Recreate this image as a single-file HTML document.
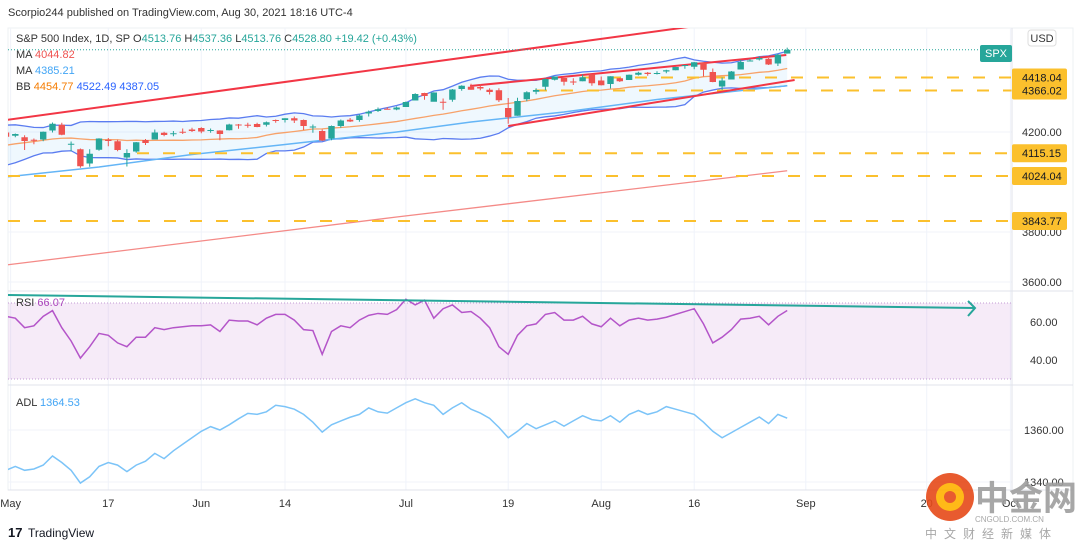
<!DOCTYPE html>
<html><head><meta charset="utf-8">
<style>
body{margin:0;background:#fff;}
svg{display:block;font-family:"Liberation Sans","Noto Sans CJK SC",sans-serif;}
</style></head>
<body>
<svg id="chart" width="1080" height="548" viewBox="0 0 1080 548" xmlns="http://www.w3.org/2000/svg">
<defs>
<clipPath id="mainClip"><rect x="8" y="28" width="1004" height="262"/></clipPath>
<clipPath id="subClip"><rect x="8" y="292" width="1004" height="198"/></clipPath>
</defs>
<rect x="0" y="0" width="1080" height="548" fill="#fff"/>
<text x="8" y="16" font-size="11" fill="#333">Scorpio244 published on TradingView.com, Aug 30, 2021 18:16 UTC-4</text>
<rect x="8" y="28" width="1065" height="462" fill="none" stroke="#eef0f3"/>
<g id="grid"></g>
<g id="main" clip-path="url(#mainClip)"></g>
<g id="sub" clip-path="url(#subClip)"></g>
<line x1="8" y1="291" x2="1073" y2="291" stroke="#e0e3eb"/>
<line x1="8" y1="385" x2="1073" y2="385" stroke="#e0e3eb"/>
<line x1="8" y1="490" x2="1073" y2="490" stroke="#e0e3eb"/>
<line x1="1012" y1="28" x2="1012" y2="490" stroke="#e0e3eb"/>
<g id="axis" font-size="11" fill="#333"></g>
<g font-size="11">
<text x="16" y="42" fill="#333">S&amp;P 500 Index, 1D, SP <tspan fill="#333">O</tspan><tspan fill="#26a69a">4513.76</tspan> <tspan fill="#333">H</tspan><tspan fill="#26a69a">4537.36</tspan> <tspan fill="#333">L</tspan><tspan fill="#26a69a">4513.76</tspan> <tspan fill="#333">C</tspan><tspan fill="#26a69a">4528.80</tspan> <tspan fill="#26a69a">+19.42 (+0.43%)</tspan></text>
<text x="16" y="58" fill="#333">MA <tspan fill="#ef5350">4044.82</tspan></text>
<text x="16" y="74" fill="#333">MA <tspan fill="#42a5f5">4385.21</tspan></text>
<text x="16" y="90" fill="#333">BB <tspan fill="#f57c00">4454.77</tspan>  <tspan fill="#2962ff">4522.49</tspan>  <tspan fill="#2962ff">4387.05</tspan></text>
<text x="16" y="306" fill="#333">RSI <tspan fill="#ab47bc">66.07</tspan></text>
<text x="16" y="406" fill="#333">ADL <tspan fill="#42a5f5">1364.53</tspan></text>
</g>
<g><rect x="980" y="45" width="32" height="17" rx="2" fill="#26a69a"/><text x="996" y="57" font-size="11" fill="#fff" text-anchor="middle">SPX</text></g>
<g><rect x="1028" y="30" width="28" height="16" rx="3" fill="#fff" stroke="#ddd"/><text x="1042" y="42" font-size="11" fill="#333" text-anchor="middle">USD</text></g>
<g><text x="8" y="537" font-size="13" font-weight="bold" fill="#131722">17</text><text x="28" y="537" font-size="12" fill="#131722">TradingView</text></g>
<g opacity="0.9">
<circle cx="950" cy="497" r="24" fill="#e64a19"/><circle cx="950" cy="497" r="14" fill="#ffb300"/><circle cx="950" cy="497" r="6" fill="#e64a19"/>
<text x="975" y="510" font-size="34" fill="#9e9e9e" font-weight="bold">中金网</text>
<text x="975" y="522" font-size="8" fill="#9e9e9e">CNGOLD.COM.CN</text>
<text x="925" y="538" font-size="12" fill="#9e9e9e" letter-spacing="7">中文财经新媒体</text>
</g>
</svg>
<script>
const dateLabels=["May","17","Jun","14","Jul","19","Aug","16","Sep","20","Oct"];
const dateLabelIdx=[0.5,11,21,30,43,54,64,74,86,99,108];
const closes=[4181,4192,4164,4168,4201,4233,4189,4153,4063,4113,4174,4164,4128,4116,4159,4156,4198,4188,4195,4200,4204,
4202,4208,4192,4230,4227,4228,4220,4239,4247,4255,4246,4224,4222,4166,4224,4246,4242,4266,4281,4291,4291,4298,
4320,4352,4344,4358,4320,4370,4385,4369,4374,4360,4327,4259,4324,4359,4368,4412,4422,4401,4400,4419,4395,
4387,4423,4403,4429,4437,4432,4436,4447,4460,4468,4479,4449,4400,4406,4442,4480,4486,4496,4470,4509,4528.8];
const opens=[4198,4185,4179,4169,4170,4206,4229,4150,4131,4074,4129,4169,4163,4098,4122,4168,4170,4197,4192,4201,4210,
4216,4206,4206,4207,4230,4229,4232,4229,4248,4248,4255,4248,4221,4204,4174,4224,4249,4248,4274,4284,4293,4290,
4300,4326,4356,4321,4321,4329,4372,4381,4380,4369,4367,4296,4265,4331,4361,4381,4409,4416,4402,4403,4431,
4406,4392,4415,4408,4429,4437,4435,4442,4447,4464,4461,4478,4440,4382,4410,4450,4484,4490,4493,4474,4513.76];
const highs=[4200,4194,4187,4174,4202,4238,4237,4162,4134,4131,4175,4176,4169,4131,4160,4172,4210,4201,4204,4214,4217,
4219,4214,4207,4233,4232,4237,4237,4242,4250,4255,4262,4250,4230,4210,4226,4250,4256,4271,4286,4298,4299,4302,
4322,4355,4357,4359,4334,4372,4387,4393,4392,4375,4375,4336,4337,4363,4375,4415,4422,4416,4415,4430,4412,
4422,4423,4416,4430,4441,4440,4443,4449,4461,4468,4480,4478,4454,4418,4444,4489,4492,4502,4496,4513,4537.36];
const lows=[4177,4179,4128,4151,4163,4198,4187,4123,4057,4061,4125,4143,4123,4062,4117,4148,4170,4183,4183,4192,4200,
4195,4197,4167,4206,4213,4217,4219,4222,4237,4238,4236,4208,4197,4164,4167,4217,4240,4241,4262,4280,4290,4287,
4300,4326,4329,4331,4289,4321,4365,4369,4367,4350,4320,4233,4265,4323,4351,4367,4406,4386,4388,4403,4385,
4386,4374,4400,4408,4426,4425,4430,4435,4447,4453,4451,4422,4399,4368,4410,4450,4482,4486,4468,4464,4513.76];
const preCloses=[4078,4074,4080,4097,4129,4128,4142,4125,4170,4185,4163,4135,4173,4135,4180,4187,4186,4183,4211];
const ma50Idx=[0,10,20,30,42,50,60,70,84];
const ma50Vals=[4020,4060,4110,4150,4200,4240,4280,4330,4385];
const ma200Idx=[0,42,84];
const ma200Vals=[3668,3860,4045];
const trendLines=[[0,4248,77.3,4640],[49.9,4384,83.9,4508],[54,4224,84.8,4408]];
const levels=[4418.04,4366.02,4115.15,4024.04,3843.77];
const levelStartX=[583,535,137,8,8];
const priceTicks=[4200,3800,3600];
const rsiVals=[63,62,57,58,63,66,57,50,41,47,54,53,49,47,52,52,57,56,57,57.5,58,58,58.5,55,61,60.5,60.5,58.5,62,64,
64,61,56,55.5,43,55,58,57,61,63.5,64.5,64,66.5,72,69,71.5,62,67,69,65,65.5,62,57,47,43,53,58,59,64,65,
61,61,63,59,57.5,62,58,61,62,61,61.5,62.5,64,65.5,67,59,49,52,56,61.5,62,63,58.5,63,66.07];
const rsiTicks=[60,40];
const adlVals=[1344.5,1346,1344.5,1345,1346.5,1350,1347.5,1344.5,1339.6,1342,1346,1347.5,1346.5,1344,1346.5,1348,1351,1349,1352,1354.5,
1357,1359.5,1361.3,1360,1362,1364.3,1366.4,1366,1367,1369.5,1369,1368,1366,1363,1359.2,1362,1363.5,1364.9,1366,1368.5,
1367,1366.5,1368.5,1370.5,1372,1370.5,1369.5,1366,1368.5,1370.5,1368,1366.5,1364.5,1361,1357,1359.5,1362.5,1360.5,1362,1363.5,
1361.5,1363.5,1365.5,1364,1363.5,1365.5,1363,1366,1367.5,1366,1367,1369,1368,1367,1366,1363,1359.5,1357,1359,1361,
1363,1365,1362.5,1366,1364.53];
const adlTicks=[1360,1340];

const NS="http://www.w3.org/2000/svg";
const xOf=i=>6+9.3*i;
const yP=p=>132-(p-4200)*0.25;
const yR=r=>322-(r-60)*1.9;
const yA=a=>430-(a-1360)*2.6;
function mk(tag,attrs,parent){const el=document.createElementNS(NS,tag);for(const k in attrs)el.setAttribute(k,attrs[k]);parent.appendChild(el);return el;}
const mainG=document.getElementById('main'),subG=document.getElementById('sub'),gridG=document.getElementById('grid'),axisG=document.getElementById('axis');

dateLabelIdx.forEach((d,k)=>{const x=xOf(d);
 const g=mk('line',{x1:x,y1:28,x2:x,y2:490,stroke:'#f0f3fa'},gridG);
 
 
 const t=mk('text',{x:x,y:507,'text-anchor':'middle'},axisG);t.textContent=dateLabels[k];
 
 
});
priceTicks.forEach(p=>{const y=yP(p);
 const g=mk('line',{x1:8,y1:y,x2:1012,y2:y,stroke:'#f0f3fa'},gridG);
 
 
 const t=mk('text',{x:1022,y:y+4},axisG);t.textContent=p.toFixed(2);
 
 
});
rsiTicks.forEach(r=>{const y=yR(r);
 const t=mk('text',{x:1030,y:y+4},axisG);t.textContent=r.toFixed(2);
 
 
});
adlTicks.forEach(a=>{const y=yA(a);
 const g=mk('line',{x1:8,y1:y,x2:1012,y2:y,stroke:'#f0f3fa'},gridG);
 
 
 const t=mk('text',{x:1024,y:y+4},axisG);t.textContent=a.toFixed(2);
 
 
});

const all=preCloses.concat(closes);const up=[],lo=[],mid=[];
for(let i=0;i<closes.length;i++){const w=all.slice(i,i+20);const m=w.reduce((a,b)=>a+b,0)/w.length;
 const sd=Math.sqrt(w.reduce((a,b)=>a+(b-m)*(b-m),0)/w.length);mid.push(m);up.push(m+2*sd);lo.push(m-2*sd);}
let fp=up.map((v,i)=>xOf(i)+','+yP(v)).join(' ')+' '+lo.map((v,i)=>xOf(i)+','+yP(v)).reverse().join(' ');
let e=mk('polygon',{points:fp,fill:'rgba(33,150,243,0.07)'},mainG);


[[up,'#5b7cf0','bb-upper'],[lo,'#5b7cf0','bb-lower'],[mid,'#f7a26a','bb-basis']].forEach(([arr,c,n])=>{
 const l=mk('polyline',{points:arr.map((v,i)=>xOf(i)+','+yP(v)).join(' '),fill:'none',stroke:c,'stroke-width':1.3},mainG);
 
 
});
e=mk('polyline',{points:ma50Idx.map((d,k)=>xOf(d)+','+yP(ma50Vals[k])).join(' '),fill:'none',stroke:'#64b5f6','stroke-width':1.5},mainG);


e=mk('polyline',{points:ma200Idx.map((d,k)=>xOf(d)+','+yP(ma200Vals[k])).join(' '),fill:'none',stroke:'#f48a87','stroke-width':1.3},mainG);


levels.forEach((p,k)=>{const y=yP(p);
 const l=mk('line',{x1:levelStartX[k],y1:y,x2:1012,y2:y,stroke:'#fbc02d','stroke-width':2,'stroke-dasharray':'12 14'},mainG);
 
 
 const b=mk('rect',{x:1012,y:y-9,width:55,height:18,rx:2,fill:'#fbc02d'},axisG);
 
 
 const t=mk('text',{x:1022,y:y+4,fill:'#131722'},axisG);t.textContent=p.toFixed(2);
 
 
});
trendLines.forEach(([i1,p1,i2,p2])=>{
 const l=mk('line',{x1:xOf(i1),y1:yP(p1),x2:xOf(i2),y2:yP(p2),stroke:'#f23645','stroke-width':2},mainG);
 
 
});
e=mk('line',{x1:8,y1:yP(4528.8),x2:1012,y2:yP(4528.8),stroke:'#26a69a','stroke-width':1,'stroke-dasharray':'1 2'},mainG);


closes.forEach((c,i)=>{const o=opens[i],x=xOf(i),col=c>=o?'#26a69a':'#ef5350';
 const g=mk('g',{},mainG);
 
 
 mk('line',{x1:x,y1:yP(highs[i]),x2:x,y2:yP(lows[i]),stroke:col,'stroke-width':1},g);
 const t=yP(Math.max(o,c)),b=yP(Math.min(o,c));
 mk('rect',{x:x-3.2,y:t,width:6.4,height:Math.max(1,b-t),fill:col},g);
});

e=mk('rect',{x:8,y:yR(70),width:1004,height:yR(30)-yR(70),fill:'rgba(186,104,200,0.13)'},subG);


[70,30].forEach(r=>{const l=mk('line',{x1:8,y1:yR(r),x2:1012,y2:yR(r),stroke:'#c39bd3','stroke-dasharray':'1 2'},subG);
 
 });
e=mk('polyline',{points:rsiVals.map((v,i)=>xOf(i)+','+yR(v)).join(' '),fill:'none',stroke:'#b455c9','stroke-width':1.5},subG);


e=mk('path',{d:'M8 295 L975 308 M968 301 L975 308 L968 316',fill:'none',stroke:'#26a69a','stroke-width':2},subG);


e=mk('polyline',{points:adlVals.map((v,i)=>xOf(i)+','+yA(v)).join(' '),fill:'none',stroke:'#7cc4f8','stroke-width':1.5},subG);


</script>
</body></html>
